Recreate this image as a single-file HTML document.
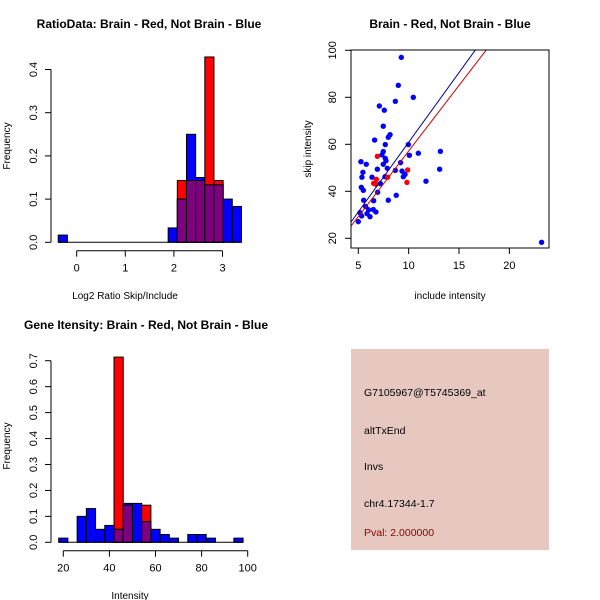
<!DOCTYPE html>
<html><head><meta charset="utf-8"><style>
body{margin:0;background:#fff}
svg{display:block;font-family:"Liberation Sans",sans-serif}
</style></head><body>
<svg id="s" width="600" height="600" viewBox="0 0 600 600">
<rect width="600" height="600" fill="#fff"/>
<g id="h1"></g>
<g id="sc"></g>
<g id="h2"></g>
<g>
<rect x="351" y="349" width="198" height="201" fill="#E6C8C0"/>
<text x="364" y="396" font-size="10.5" fill="#000">G7105967@T5745369_at</text>
<text x="364" y="434" font-size="10.5" fill="#000">altTxEnd</text>
<text x="364" y="470" font-size="10.5" fill="#000">Invs</text>
<text x="364" y="507" font-size="10.5" fill="#000">chr4.17344-1.7</text>
<text x="364" y="536" font-size="10.5" fill="#8B0000">Pval: 2.000000</text>
</g>
</svg>
<script>
// Ratio histogram data
const ratioBinStart = -0.38;
const ratioBinWidth = 0.1885;
const ratioBlue = [0.0167,0,0,0,0,0,0,0,0,0,0,0,0.0333,0.10,0.25,0.15,0.133,0.133,0.10,0.083];
const ratioRed  = [0,0,0,0,0,0,0,0,0,0,0,0,0,0.143,0.143,0.143,0.429,0.143,0,0];
const ratioYTicks = [0,0.1,0.2,0.3,0.4];
const ratioYLabels = ["0.0","0.1","0.2","0.3","0.4"];
const ratioXTicks = [0,1,2,3];
// Intensity histogram data
const intBinStart = 18;
const intBinWidth = 4;
const intBlue = [0.016,0,0.10,0.13,0.05,0.065,0.05,0.15,0.15,0.08,0.05,0.03,0.016,0,0.03,0.03,0.016,0,0,0.016];
const intRed  = [0,0,0,0,0,0,0.714,0.143,0,0.143,0,0,0,0,0,0,0,0,0,0];
const intYTicks = [0,0.1,0.2,0.3,0.4,0.5,0.6,0.7];
const intYLabels = ["0.0","0.1","0.2","0.3","0.4","0.5","0.6","0.7"];
const intXTicks = [20,40,60,80,100];
// Scatter data
const blueX = [9.27,8.97,8.68,10.46,7.09,7.58,7.48,6.62,8.15,7.98,7.68,9.97,7.48,7.35,7.68,5.26,5.79,7.48,7.75,7.88,6.89,5.46,5.36,6.36,7.65,8.68,9.34,9.47,9.64,10.07,10.96,13.15,13.08,11.72,9.2,5.3,5.5,7.19,6.92,5.53,6.52,7.98,8.77,5.73,6.03,6.49,6.75,5.17,5.33,5.86,6.16,5.0,23.2];
const blueY = [97,85.1,78.3,80,76.3,74.5,67.7,61.8,64.1,63,59.9,59.9,56.9,55.5,54,52.6,51.5,51.5,53,49.8,49.4,48.1,46,46,46.2,48.9,48.6,46.2,47.2,55.3,56.2,57,49.4,44.3,52.2,41.7,40.4,43.3,39.6,36.2,36,36.2,38.3,33.5,32.1,32.2,31.2,30.9,29.5,30.5,29.2,27.1,18.3];
const redX = [6.89,6.79,6.52,6.75,7.91,9.9,9.83];
const redY = [54.9,45.1,43.4,43,46,49.1,43.8];
const fitBlue = [1.56,5.93]; // intercept, slope
const fitRed = [1.34,5.58];
const scXTicks = [5,10,15,20];
const scYTicks = [20,40,60,80,100];

const NS="http://www.w3.org/2000/svg";
function mk(parent,tag,attrs,text){const e=document.createElementNS(NS,tag);for(const k in attrs)e.setAttribute(k,attrs[k]);if(text!==undefined)e.textContent=text;parent.appendChild(e);return e;}

function hist(g,cfg){
  const sx=v=>cfg.x0+(v-cfg.xv0)*cfg.kx, sy=v=>cfg.y0-v*cfg.ky;
  cfg.blue.forEach((b,i)=>{
    const r=cfg.red[i], l=cfg.start+i*cfg.w, x1=sx(l), x2=sx(l+cfg.w);
    if(r>0){const e=mk(g,'rect',{x:x1,y:sy(r),width:x2-x1,height:sy(0)-sy(r),fill:'#FF0000',stroke:'#000','stroke-width':1});
      
      }
    if(b>0){const e=mk(g,'rect',{x:x1,y:sy(b),width:x2-x1,height:sy(0)-sy(b),fill:'#0000FF',stroke:'#000','stroke-width':1});
      
      }
    const m=Math.min(r,b);
    if(m>0){const e=mk(g,'rect',{x:x1,y:sy(m),width:x2-x1,height:sy(0)-sy(m),fill:'#7F007F',stroke:'#000','stroke-width':1});
      
      }
  });
  const n=cfg.blue.length;
  mk(g,'line',{x1:sx(cfg.start),x2:sx(cfg.start+n*cfg.w),y1:sy(0),y2:sy(0),stroke:'#000'});
  const ya=mk(g,'g',{});
  
  
  const ax=cfg.yAxisX;
  mk(ya,'line',{x1:ax,x2:ax,y1:sy(cfg.yt[0]),y2:sy(cfg.yt[cfg.yt.length-1]),stroke:'#000'});
  cfg.yt.forEach((t,i)=>{mk(ya,'line',{x1:ax-6,x2:ax,y1:sy(t),y2:sy(t),stroke:'#000'});
    mk(ya,'text',{x:ax-14,y:sy(t),'font-size':11,'text-anchor':'middle',transform:`rotate(-90 ${ax-14} ${sy(t)})`},cfg.yl[i]);});
  const xa=mk(g,'g',{});
  
  
  const ay=cfg.xAxisY;
  mk(xa,'line',{x1:sx(cfg.xt[0]),x2:sx(cfg.xt[cfg.xt.length-1]),y1:ay,y2:ay,stroke:'#000'});
  cfg.xt.forEach(t=>{mk(xa,'line',{x1:sx(t),x2:sx(t),y1:ay,y2:ay+6,stroke:'#000'});
    mk(xa,'text',{x:sx(t),y:ay+21,'font-size':11,'text-anchor':'middle'},String(t));});
}

hist(document.getElementById('h1'),{x0:76.7,xv0:0,kx:48.6,y0:242.3,ky:432,start:ratioBinStart,w:ratioBinWidth,blue:ratioBlue,red:ratioRed,yt:ratioYTicks,yl:ratioYLabels,xt:ratioXTicks,yAxisX:51,xAxisY:250.7});
hist(document.getElementById('h2'),{x0:63.3,xv0:20,kx:2.305,y0:542.3,ky:259.4,start:intBinStart,w:intBinWidth,blue:intBlue,red:intRed,yt:intYTicks,yl:intYLabels,xt:intXTicks,yAxisX:51,xAxisY:550.7});

(function(){
  const g=document.getElementById('sc');
  const sx=v=>358.3+(v-5)*10.07, sy=v=>238.3-(v-20)*2.350;
  const L=351,R=549,T=50,B=248;
  mk(g,'defs',{}).innerHTML='<clipPath id="cp"><rect x="351" y="50" width="198" height="198"/></clipPath>';
  blueX.forEach((x,i)=>{const c=mk(g,'circle',{cx:sx(x),cy:sy(blueY[i]),r:2.7,fill:'#0000FF'});
    
    });
  redX.forEach((x,i)=>{const c=mk(g,'circle',{cx:sx(x),cy:sy(redY[i]),r:2.7,fill:'#FF0000'});
    
    });
  const lg=mk(g,'g',{'clip-path':'url(#cp)'});
  [[fitBlue,'#00008B','blue-fit-line'],[fitRed,'#CC0000','red-fit-line']].forEach(([f,col,nm])=>{
    const l=mk(lg,'line',{x1:sx(0),y1:sy(f[0]),x2:sx(30),y2:sy(f[0]+f[1]*30),stroke:col,'stroke-width':1});
    
    });
  mk(g,'rect',{x:L,y:T,width:R-L,height:B-T,fill:'none',stroke:'#000'});
  scXTicks.forEach(t=>{mk(g,'line',{x1:sx(t),x2:sx(t),y1:B,y2:B+6,stroke:'#000'});
    mk(g,'text',{x:sx(t),y:B+21,'font-size':11,'text-anchor':'middle'},String(t));});
  scYTicks.forEach(t=>{mk(g,'line',{x1:L-6,x2:L,y1:sy(t),y2:sy(t),stroke:'#000'});
    mk(g,'text',{x:L-15,y:sy(t),'font-size':11,'text-anchor':'middle',transform:`rotate(-90 ${L-15} ${sy(t)})`},String(t));});
})();
</script>
<script>
const s=document.getElementById('s');
function T(x,y,txt,opt,name){const e=document.createElementNS("http://www.w3.org/2000/svg",'text');
  e.setAttribute('x',x);e.setAttribute('y',y);e.setAttribute('font-size',opt.fs||10);
  e.setAttribute('text-anchor',opt.anchor||'middle');if(opt.bold)e.setAttribute('font-weight','bold');
  if(opt.rot)e.setAttribute('transform',`rotate(-90 ${x} ${y})`);
  
  
  e.textContent=txt;s.appendChild(e);}
T(149,28,'RatioData: Brain - Red, Not Brain - Blue',{fs:12,bold:1},'ratio-title');
T(125,299,'Log2 Ratio Skip/Include',{fs:10},'ratio-x-title');
T(10,146,'Frequency',{fs:10,rot:1},'ratio-y-title');
T(450,28,'Brain - Red, Not Brain - Blue',{fs:12,bold:1},'scatter-title');
T(450,299,'include intensity',{fs:10},'scatter-x-title');
T(311,149,'skip intensity',{fs:10,rot:1},'scatter-y-title');
T(146,329,'Gene Itensity: Brain - Red, Not Brain - Blue',{fs:12,bold:1},'intensity-title');
T(130,599,'Intensity',{fs:10},'intensity-x-title');
T(10,446,'Frequency',{fs:10,rot:1},'intensity-y-title');
</script>
</body></html>
